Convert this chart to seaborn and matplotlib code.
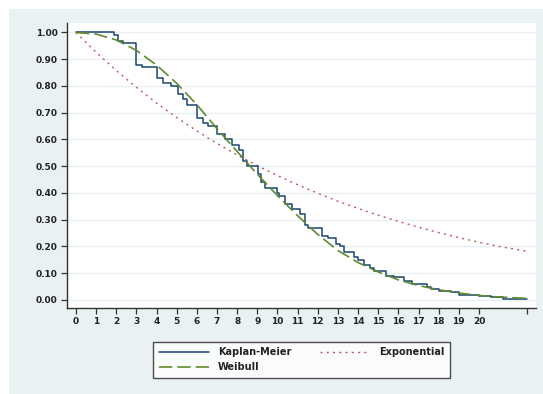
import matplotlib
matplotlib.use("Agg")
import matplotlib.pyplot as plt
import seaborn as sns
import pandas as pd
from matplotlib.patches import Rectangle

sns.set_theme(style="white")
plt.rcParams['font.family'] = ['DejaVu Sans']

# Kaplan-Meier step estimate
km_time = [0, 1.9, 2.1, 2.35, 3.0, 3.3, 4.0, 4.3, 4.7, 5.05, 5.3, 5.5, 6.0, 6.3, 6.55,
           7.0, 7.4, 7.75, 8.1, 8.3, 8.5, 9.05, 9.2, 9.4, 10.0, 10.1, 10.35, 10.7, 11.1,
           11.35, 11.5, 12.2, 12.5, 12.9, 13.1, 13.3, 13.8, 14.0, 14.3, 14.6, 14.8, 15.4,
           15.8, 16.3, 16.7, 17.4, 17.6, 18.0, 18.6, 19.0, 20.0, 20.6, 21.2, 22.4]
km_surv = [1.0, 0.99, 0.97, 0.96, 0.88, 0.87, 0.83, 0.81, 0.80, 0.77, 0.75, 0.73, 0.68, 0.66, 0.65,
           0.62, 0.60, 0.58, 0.56, 0.52, 0.50, 0.47, 0.44, 0.42, 0.40, 0.39, 0.36, 0.34, 0.32,
           0.28, 0.27, 0.24, 0.23, 0.21, 0.20, 0.18, 0.16, 0.15, 0.13, 0.12, 0.11, 0.09,
           0.085, 0.07, 0.06, 0.05, 0.04, 0.035, 0.03, 0.02, 0.015, 0.01, 0.005, 0.005]

# Fitted curves
fit_time = [0, 1, 2, 3, 4, 5, 6, 7, 8, 9, 10, 11, 12, 13, 14, 15, 16, 17, 18, 19, 20, 21, 22.4]
weibull_surv = [1.0, 0.994, 0.972, 0.933, 0.878, 0.81, 0.73, 0.64, 0.555, 0.47, 0.39, 0.315,
                0.245, 0.185, 0.14, 0.105, 0.075, 0.054, 0.038, 0.026, 0.017, 0.011, 0.006]
expo_surv = [1.0, 0.926, 0.858, 0.795, 0.736, 0.682, 0.632, 0.585, 0.542, 0.502, 0.465, 0.431,
             0.399, 0.369, 0.342, 0.317, 0.294, 0.272, 0.252, 0.233, 0.216, 0.200, 0.182]

y_ticks = [0.0, 0.1, 0.2, 0.3, 0.4, 0.5, 0.6, 0.7, 0.8, 0.9, 1.0]
y_labels = ["0.00", "0.10", "0.20", "0.30", "0.40", "0.50", "0.60", "0.70", "0.80", "0.90", "1.00"]
x_ticks = list(range(0, 21)) + [22.4]
x_labels = [str(i) for i in range(0, 21)] + [""]

km_df = pd.DataFrame({"t": km_time, "s": km_surv})
fit_df = pd.DataFrame({"t": fit_time, "w": weibull_surv, "e": expo_surv})

bg = "#eaf1f3"
fig = plt.figure(figsize=(5.43, 3.94), dpi=100, facecolor="white")
fig.patches.append(Rectangle((9 / 543, 0), 1 - 9 / 543, 1 - 9 / 394, transform=fig.transFigure,
                             facecolor=bg, edgecolor="none", zorder=-10))
ax = fig.add_axes([66.7 / 543, 1 - 308 / 394, (536 - 66.7) / 543, (308 - 22.7) / 394])
ax.set_zorder(1)
ax.set_facecolor("white")

for yv in y_ticks:
    ax.axhline(yv, color="#e6eff1", lw=1.0, zorder=0)

sns.lineplot(data=km_df, x="t", y="s", ax=ax, color="#1a476f", lw=1.1,
             drawstyle="steps-post", estimator=None, sort=False, label="Kaplan-Meier", zorder=3)
sns.lineplot(data=fit_df, x="t", y="w", ax=ax, color="#5f8a2e", lw=1.2,
             linestyle=(0, (8, 3)), estimator=None, sort=False, label="Weibull", zorder=4)
sns.lineplot(data=fit_df, x="t", y="e", ax=ax, color="#c05a62", lw=1.0,
             linestyle=(0, (1.5, 3)), estimator=None, sort=False, label="Exponential", zorder=2)

ax.set_xlim(-0.46, 22.83)
ax.set_ylim(-0.03, 1.0366)
ax.set_yticks(y_ticks)
ax.set_yticklabels(y_labels)
ax.set_xticks(x_ticks)
ax.set_xticklabels(x_labels)
ax.set_xlabel("")
ax.set_ylabel("")

for s in ["top", "right"]:
    ax.spines[s].set_visible(False)
for s in ["left", "bottom"]:
    ax.spines[s].set_color("#333333")
    ax.spines[s].set_linewidth(1.0)

ax.tick_params(axis="both", which="both", direction="out", length=4, width=0.9,
               color="#333333", labelsize=6.5, labelcolor="#222222", pad=2.5,
               left=True, bottom=True)
for lab in ax.get_yticklabels() + ax.get_xticklabels():
    lab.set_fontweight("bold")

ax.get_legend().remove()
handles, labels = ax.get_legend_handles_labels()
leg = fig.legend(handles, labels, ncol=2, loc="lower left",
                 bbox_to_anchor=(148 / 543, 1 - 383 / 394, (455 - 148) / 543, (383 - 338) / 394),
                 mode="expand", frameon=True, fancybox=False, fontsize=7,
                 handlelength=5.2, handletextpad=0.9, columnspacing=2.2,
                 borderpad=0.6, labelspacing=0.5)
leg.get_frame().set_edgecolor("#222222")
leg.get_frame().set_linewidth(1.0)
leg.get_frame().set_facecolor("white")
leg.set_zorder(5)
for t in leg.get_texts():
    t.set_fontweight("bold")
    t.set_color("#222222")

fig.savefig("out.png", dpi=100, facecolor=fig.get_facecolor())
